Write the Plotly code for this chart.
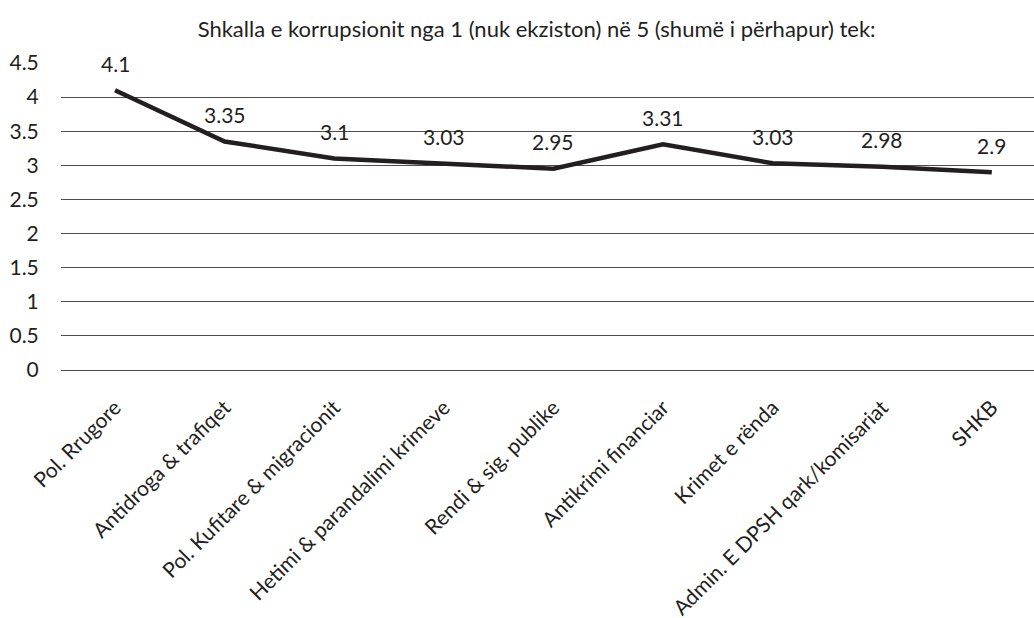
import plotly.graph_objects as go

categories = ["Pol. Rrugore", "Antidroga & trafiqet", "Pol. Kufitare & migracionit",
              "Hetimi & parandalimi krimeve", "Rendi & sig. publike", "Antikrimi financiar",
              "Krimet e rënda", "Admin. E DPSH qark/komisariat", "SHKB"]
values = [4.1, 3.35, 3.1, 3.03, 2.95, 3.31, 3.03, 2.98, 2.9]
value_labels = ["4.1", "3.35", "3.1", "3.03", "2.95", "3.31", "3.03", "2.98", "2.9"]
y_ticks = [0, 0.5, 1, 1.5, 2, 2.5, 3, 3.5, 4, 4.5]
y_tick_labels = ["0", "0.5", "1", "1.5", "2", "2.5", "3", "3.5", "4", "4.5"]
title = "Shkalla e korrupsionit nga 1 (nuk ekziston) në 5 (shumë i përhapur) tek:"

FONT = "Lato, Open Sans, sans-serif"
TXT = "#231f20"

fig = go.Figure()
fig.add_trace(go.Scatter(x=categories, y=values, mode="lines",
                         line=dict(color=TXT, width=4.5), hoverinfo="skip",
                         showlegend=False))

for c, v, t in zip(categories, values, value_labels):
    fig.add_annotation(x=c, y=v, text=t, showarrow=False, yshift=27,
                       font=dict(family=FONT, size=21, color=TXT))

fig.update_layout(
    width=1034, height=618,
    margin=dict(l=61, r=0, t=63, b=248),
    paper_bgcolor="white", plot_bgcolor="white",
    title=dict(text=title, x=0.519, xanchor="center", y=0.953, yanchor="middle",
               xref="container", font=dict(family=FONT, size=22, color=TXT)),
    font=dict(family=FONT, color=TXT),
)
fig.update_xaxes(tickangle=-45, tickfont=dict(family=FONT, size=21, color=TXT),
                 showgrid=False, showline=False, zeroline=False, automargin=False,
                 ticks="outside", ticklen=16, tickcolor="rgba(0,0,0,0)",
                 range=[-0.493, 8.385])
fig.update_yaxes(range=[0, 4.5], tickvals=y_ticks, ticktext=y_tick_labels,
                 tickfont=dict(family=FONT, size=21, color=TXT), automargin=False,
                 showgrid=True, gridcolor="#4d4d4d", gridwidth=1,
                 zeroline=True, zerolinecolor="#4d4d4d", zerolinewidth=1,
                 showline=False, ticks="outside", ticklen=17, tickcolor="rgba(0,0,0,0)")

fig.write_html("out.html", config={"displayModeBar": False},
               post_script="document.body.style.margin='0';")
